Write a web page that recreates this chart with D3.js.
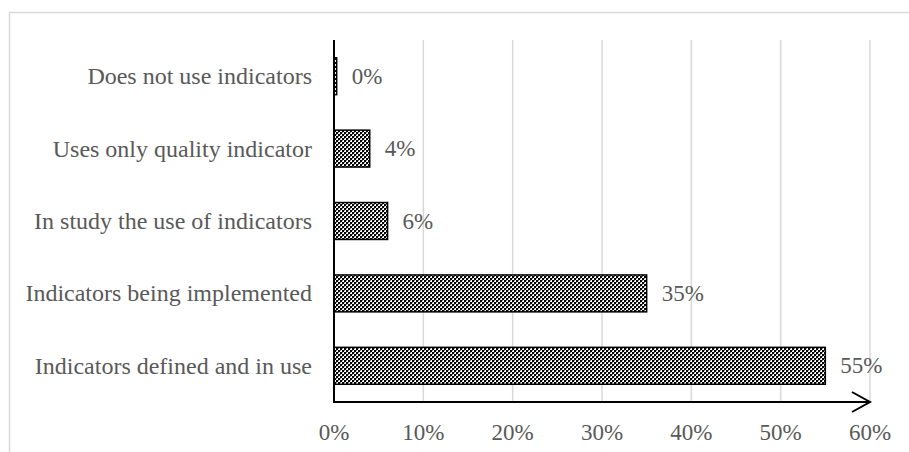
<!DOCTYPE html>
<html><head><meta charset="utf-8">
<script src="https://cdn.jsdelivr.net/npm/d3@7"></script>
<style>body{margin:0;background:#fff}svg{display:block}</style>
</head><body>
<svg id="c" width="909" height="452"></svg>
<script>
const categories = ["Does not use indicators","Uses only quality indicator","In study the use of indicators","Indicators being implemented","Indicators defined and in use"];
const values = [0.3, 4, 6, 35, 55];
const valueLabels = ["0%","4%","6%","35%","55%"];
const ticks = [0,10,20,30,40,50,60];

const svg = d3.select("#c");
const font = "'Liberation Serif','Times New Roman',serif";
const M = {left:334, right:870, top:40, bottom:402};

// frame
svg.append("rect").attr("x",9.5).attr("y",12.5).attr("width",920).attr("height",460)
  .attr("fill","none").attr("stroke","#d9d9d9").attr("stroke-width",1.5);

const defs = svg.append("defs");
const pat = defs.append("pattern").attr("id","chk").attr("patternUnits","userSpaceOnUse")
  .attr("width",4).attr("height",4);
pat.append("rect").attr("width",4).attr("height",4).attr("fill","#fff");
pat.append("rect").attr("x",0).attr("y",0).attr("width",2).attr("height",2).attr("fill","#000");
pat.append("rect").attr("x",2).attr("y",2).attr("width",2).attr("height",2).attr("fill","#000");
pat.append("rect").attr("x",2).attr("y",0).attr("width",1).attr("height",1).attr("fill","#777");
pat.append("rect").attr("x",0).attr("y",2).attr("width",1).attr("height",1).attr("fill","#777");

const x = d3.scaleLinear().domain([0,60]).range([M.left,M.right]);
const y = d3.scaleBand().domain(categories).range([M.top,M.bottom]).paddingInner(0.49).paddingOuter(0.245);

// gridlines
svg.append("g").selectAll("line").data(ticks.slice(1)).join("line")
  .attr("x1",d=>x(d)).attr("x2",d=>x(d)).attr("y1",M.top).attr("y2",M.bottom)
  .attr("stroke","#d9d9d9").attr("stroke-width",1.5);

// tick labels
svg.append("g").selectAll("text").data(ticks).join("text")
  .attr("x",d=>x(d)).attr("y",432).attr("text-anchor","middle").attr("dominant-baseline","central")
  .attr("font-family",font).attr("font-size",23).attr("fill","#595959").text(d=>d+"%");

// bars
svg.append("g").selectAll("rect").data(values).join("rect")
  .attr("x",x(0)).attr("y",(d,i)=>y(categories[i])).attr("height",y.bandwidth())
  .attr("width",d=>x(d)-x(0)).attr("fill","url(#chk)").attr("stroke","#000").attr("stroke-width",1.5);

// category labels
svg.append("g").selectAll("text").data(categories).join("text")
  .attr("x",312).attr("y",d=>y(d)+y.bandwidth()/2).attr("text-anchor","end").attr("dominant-baseline","central")
  .attr("font-family",font).attr("font-size",24).attr("fill","#595959").text(d=>d);

// value labels
svg.append("g").selectAll("text").data(values).join("text")
  .attr("x",d=>x(d)+15).attr("y",(d,i)=>y(categories[i])+y.bandwidth()/2).attr("dominant-baseline","central")
  .attr("font-family",font).attr("font-size",23).attr("fill","#595959").text((d,i)=>valueLabels[i]);

// axes
svg.append("line").attr("x1",x(0)).attr("x2",x(0)).attr("y1",M.top).attr("y2",M.bottom)
  .attr("stroke","#000").attr("stroke-width",2);
svg.append("line").attr("x1",x(0)-1).attr("x2",x(60)).attr("y1",M.bottom).attr("y2",M.bottom)
  .attr("stroke","#000").attr("stroke-width",2);
svg.append("path").attr("d",`M${x(60)-18},${M.bottom-10}L${x(60)},${M.bottom}L${x(60)-18},${M.bottom+10}`)
  .attr("fill","none").attr("stroke","#000").attr("stroke-width",2);
</script>
</body></html>
